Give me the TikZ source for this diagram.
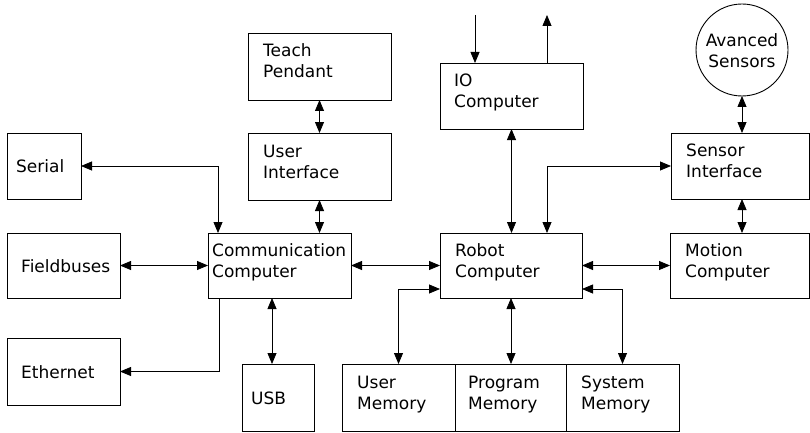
\documentclass[tikz,border=0pt]{standalone}
\usepackage{fontspec}
\setmainfont{DejaVu Sans}
\usetikzlibrary{arrows.meta}
\begin{document}
\begin{tikzpicture}[x=1pt,y=-1pt,
  box/.style={draw, line width=0.9pt, rectangle, inner sep=0pt, outer sep=0pt},
  circ/.style={draw, line width=0.9pt, circle, inner sep=0pt, outer sep=0pt, minimum size=92pt},
  txt/.style={font=\fontsize{17}{21}\selectfont, align=left, inner sep=0pt, anchor=base west},
  ctxt/.style={font=\fontsize{17}{21}\selectfont, align=center, inner sep=0pt, anchor=base},
  conn/.style={line width=0.8pt},
  arr/.style={conn, -{Triangle[length=11pt,width=9pt]}},
  dbl/.style={conn, {Triangle[length=11pt,width=9pt]}-{Triangle[length=11pt,width=9pt]}}]
\useasboundingbox (0,0) rectangle (810,433);

% boxes
\node[box, minimum width=143pt, minimum height=67pt] (tp) at (319.5,66.5) {};
\node[box, minimum width=143pt, minimum height=67pt] (ui) at (319.5,166.5) {};
\node[box, minimum width=74pt, minimum height=66pt] (ser) at (44,166) {};
\node[box, minimum width=113pt, minimum height=65pt] (fb) at (63.5,265.5) {};
\node[box, minimum width=113pt, minimum height=67pt] (eth) at (63.5,371.5) {};
\node[box, minimum width=143pt, minimum height=65pt] (com) at (279.5,265.5) {};
\node[box, minimum width=72pt, minimum height=67pt] (usb) at (278,397.5) {};
\node[box, minimum width=143pt, minimum height=66pt] (io) at (511.5,96) {};
\node[box, minimum width=142pt, minimum height=65pt] (rob) at (511,265.5) {};
\node[box, minimum width=138pt, minimum height=66pt] (sen) at (740,166) {};
\node[box, minimum width=139pt, minimum height=65pt] (mot) at (739.5,265.5) {};
\node[box, minimum width=113pt, minimum height=67pt] (um) at (398.5,397.5) {};
\node[box, minimum width=111pt, minimum height=67pt] (pm) at (510.5,397.5) {};
\node[box, minimum width=113pt, minimum height=67pt] (sm) at (622.5,397.5) {};
\node[circ] (as) at (742,50) {};

% texts
\node[txt] (tpt) at ([xshift=15pt,yshift=-11.5pt]tp.west) {Teach\\Pendant};
\node[txt] (uit) at ([xshift=15pt,yshift=-11.5pt]ui.west) {User\\Interface};
\node[txt] (sert) at ([xshift=9pt,yshift=-6.5pt]ser.west) {Serial};
\node[txt] (fbt) at ([xshift=14pt,yshift=-6.5pt]fb.west) {Fieldbuses};
\node[txt] (etht) at ([xshift=14pt,yshift=-6.5pt]eth.west) {Ethernet};
\node[txt] (comt) at ([xshift=4pt,yshift=-11.5pt]com.west) {Communication\\Computer};
\node[txt] (usbt) at ([xshift=9pt,yshift=-6.5pt]usb.west) {USB};
\node[txt] (iot) at ([xshift=14pt,yshift=-11.5pt]io.west) {IO\\Computer};
\node[txt] (robt) at ([xshift=15pt,yshift=-11.5pt]rob.west) {Robot\\Computer};
\node[txt] (sent) at ([xshift=15pt,yshift=-11.5pt]sen.west) {Sensor\\Interface};
\node[txt] (mott) at ([xshift=15pt,yshift=-11.5pt]mot.west) {Motion\\Computer};
\node[txt] (umt) at ([xshift=15pt,yshift=-11.5pt]um.west) {User\\Memory};
\node[txt] (pmt) at ([xshift=13pt,yshift=-11.5pt]pm.west) {Program\\Memory};
\node[txt] (smt) at ([xshift=15pt,yshift=-11.5pt]sm.west) {System\\Memory};
\node[ctxt] (ast) at ([yshift=-18pt]as.center) {Avanced\\Sensors};

% free ends
\coordinate (ioin) at (475,15);
\coordinate (ioout) at (547,15);

% connectors
\draw[dbl] (tp.south) -- (ui.north);
\draw[dbl] (ui.south) -- (ui.south |- com.north);
\draw[dbl] (ser.east) -| ([xshift=10pt]com.north west);
\draw[dbl] (fb.east) -- (com.west);
\draw[arr] ([xshift=11pt]com.south west) |- (eth.east);
\draw[dbl] ([xshift=-6pt]usb.north |- com.south) -- ([xshift=-6pt]usb.north);
\draw[dbl] (com.east) -- (rob.west);
\draw[dbl] (io.south) -- (io.south |- rob.north);
\draw[arr] (ioin) -- (ioin |- io.north);
\draw[arr] (ioout |- io.north) -- (ioout);
\draw[dbl] ([xshift=36pt]rob.north) |- (sen.west);
\draw[dbl] (as.south) -- (as.south |- sen.north);
\draw[dbl] (as.south |- sen.south) -- (as.south |- mot.north);
\draw[dbl] (rob.east) -- (mot.west);
\draw[dbl] ([yshift=-23.5pt]rob.west) -| (um.north);
\draw[dbl] (rob.south) -- (rob.south |- pm.north);
\draw[dbl] ([yshift=-23.5pt]rob.east) -| (sm.north);
\end{tikzpicture}
\end{document}
